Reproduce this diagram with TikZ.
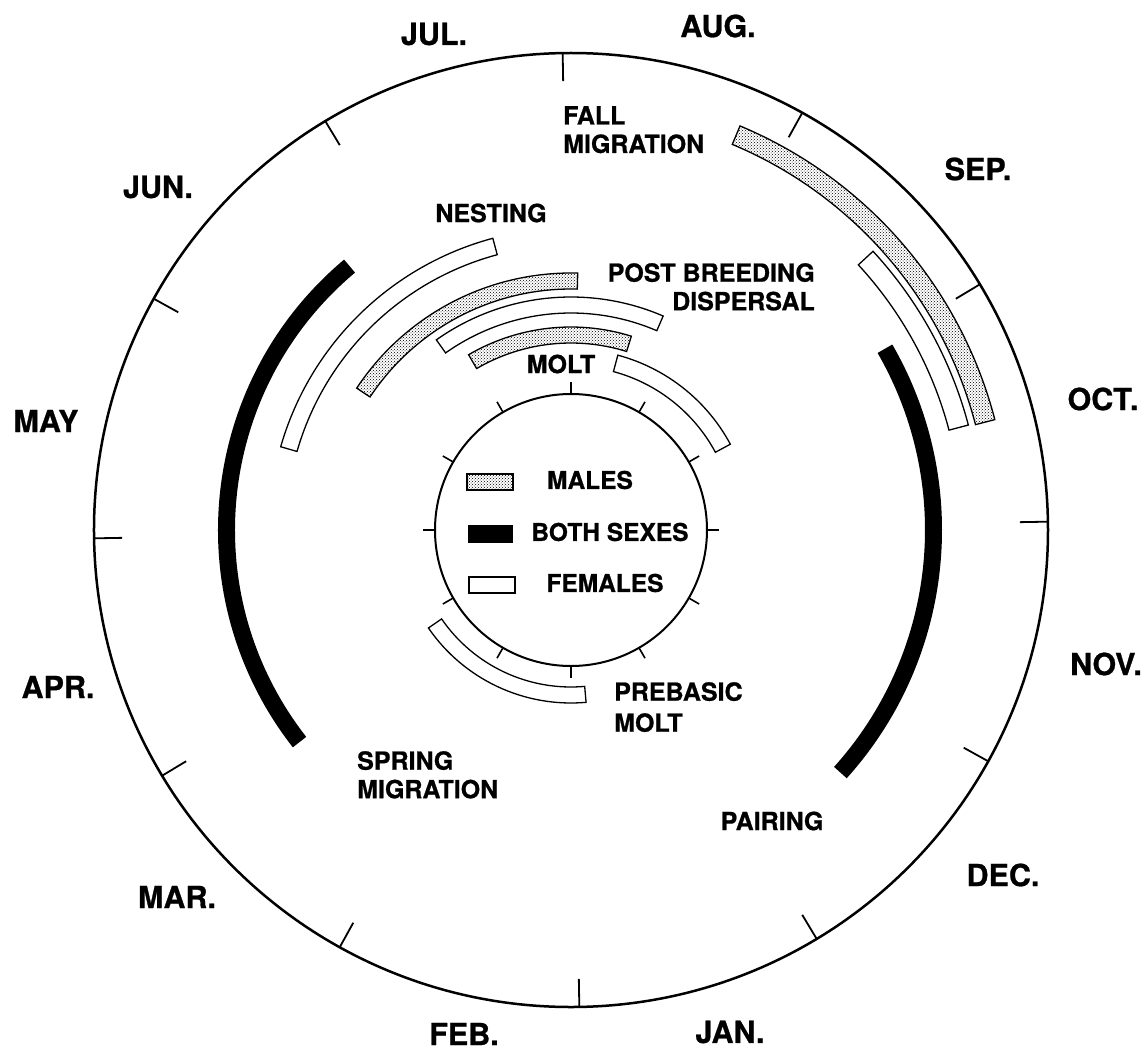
\documentclass[tikz,border=0pt]{standalone}
\usepackage{fontspec}
\setmainfont{TeX Gyre Heros}[BoldFeatures={FakeBold=0.8}]
\usetikzlibrary{patterns}

\begin{document}
\begin{tikzpicture}[x=1pt, y=1pt,
    monthlabel/.style={font=\fontsize{30.5}{36}\selectfont\bfseries, inner sep=0pt},
    phaselabel/.style={font=\fontsize{25}{28.5}\selectfont\bfseries, inner sep=0pt},
    keylabel/.style={font=\fontsize{24.5}{28}\selectfont\bfseries, inner sep=0pt},
    malebar/.style={draw, line width=1.3pt, pattern=crosshatch dots},
    femalebar/.style={draw, line width=1.3pt, fill=white},
    bothbar/.style={draw=none, fill=black}]
    \useasboundingbox (-571,-523) rectangle (575,530);
    \def\ro{477} % outer ring
    \def\rt{449} % inner end of the month ticks
    \def\ri{136} % inner ring
    \def\rk{148}
    \def\seasonbar#1#2#3#4#5{%
        \draw [#1] (#2:#4) arc [start angle=#2, end angle=#3, radius=#4]
            -- (#3:#5) arc [start angle=#3, end angle=#2, radius=#5] -- cycle;}
    % rings and ticks
    \draw [line width=2.5pt] (0,0) circle [radius=\ro];
    \draw [line width=2pt] (0,0) circle [radius=\ri];
    \foreach \a in {1,31,...,331}
        \draw [line width=1.8pt] (\a:\rt) -- (\a:\ro);
    \foreach \a in {0,30,...,330}
        \draw [line width=1.6pt] (\a:\ri) -- (\a:\rk);
    % months
    \node [monthlabel] (jul) at (-137,496) {JUL.};
    \node [monthlabel] (aug) at (147,504) {AUG.};
    \node [monthlabel] (sep) at (407,361) {SEP.};
    \node [monthlabel] (oct) at (532,131) {OCT.};
    \node [monthlabel] (nov) at (535,-134) {NOV.};
    \node [monthlabel] (dec) at (432,-345) {DEC.};
    \node [monthlabel] (jan) at (159,-502) {JAN.};
    \node [monthlabel] (feb) at (-107,-504) {FEB.};
    \node [monthlabel] (mar) at (-394,-367) {MAR.};
    \node [monthlabel] (apr) at (-513,-157) {APR.};
    \node [monthlabel] (may) at (-525,109) {MAY};
    \node [monthlabel] (jun) at (-413,343) {JUN.};
    % both sexes
    \seasonbar{bothbar}{130}{218}{353}{336}
    \seasonbar{bothbar}{-42}{30}{371}{354}
    % males
    \seasonbar{malebar}{14.6}{67.3}{438}{418}
    \seasonbar{malebar}{88.5}{146.5}{257}{241}
    \seasonbar{malebar}{72.7}{120.3}{203}{187}
    % females
    \seasonbar{femalebar}{14.8}{42.7}{411}{391}
    \seasonbar{femalebar}{105}{164}{302}{285}
    \seasonbar{femalebar}{66.7}{125.3}{233}{217}
    \seasonbar{femalebar}{28.3}{75}{181}{164}
    \seasonbar{femalebar}{214.5}{275}{173}{157}
    % phases
    \node [phaselabel, align=left, anchor=north west] (fall) at (-8,424) {FALL\\MIGRATION};
    \node [phaselabel, align=right, anchor=north east] (dispersal) at (244,267) {POST BREEDING\\DISPERSAL};
    \node [phaselabel] (nesting) at (-80,317) {NESTING};
    \node [phaselabel] (molt) at (-10,166) {MOLT};
    \node [phaselabel, align=left, anchor=north west, font=\fontsize{25}{31}\selectfont\bfseries] (prebasic) at (43,-152) {PREBASIC\\MOLT};
    \node [phaselabel, align=left, anchor=north west] (spring) at (-214,-221) {SPRING\\MIGRATION};
    \node [phaselabel] (pairing) at (201,-291) {PAIRING};
    % key
    \draw [malebar] (-104,40) rectangle (-58,56);
    \draw [bothbar] (-103,-13) rectangle (-58,5);
    \draw [femalebar] (-102,-63) rectangle (-56,-47);
    \node [keylabel] (kmales) at (19,50) {MALES};
    \node [keylabel] (kboth) at (39,-2) {BOTH SEXES};
    \node [keylabel] (kfemales) at (34,-53) {FEMALES};
\end{tikzpicture}
\end{document}
